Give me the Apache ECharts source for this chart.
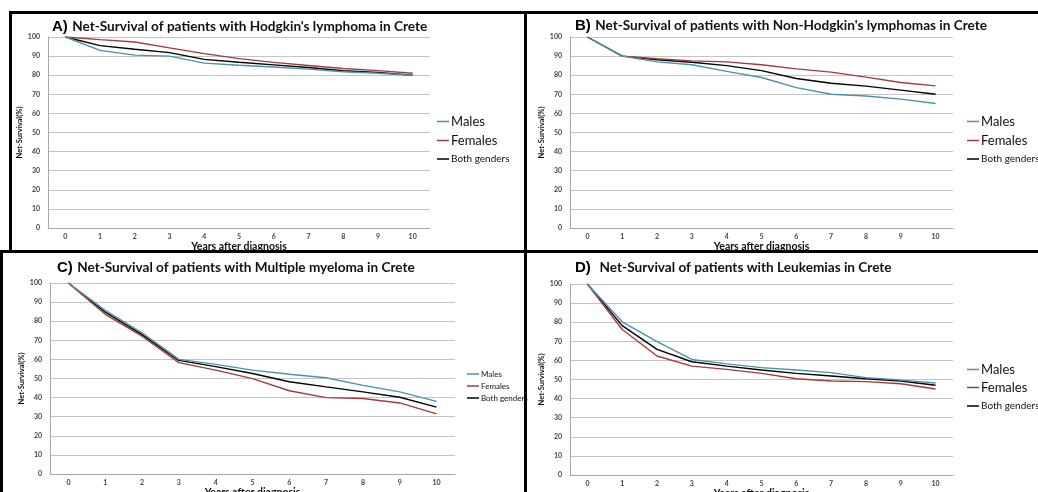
<!DOCTYPE html>
<html>
<head>
<meta charset="utf-8">
<script src="https://cdn.jsdelivr.net/npm/echarts@6/dist/echarts.min.js"></script>
<style>
  html, body { margin: 0; background: #fff; }
  #chart { width: 1038px; height: 492px; }
</style>
</head>
<body>
<div id="chart"></div>
<script>
  const years = ["0", "1", "2", "3", "4", "5", "6", "7", "8", "9", "10"];
  const groups = ["Males", "Females", "Both genders"];
  const yTicks = [0, 10, 20, 30, 40, 50, 60, 70, 80, 90, 100];

  // A) Hodgkin's lymphoma
  const hodgkinMales = [100, 93, 90.5, 90, 86.3, 85.2, 84.3, 83.2, 81.8, 81, 80];
  const hodgkinFemales = [100, 98.6, 97.4, 94.3, 91.3, 88.7, 86.7, 85.1, 83.5, 82.4, 81];
  const hodgkinBoth = [100, 95.5, 93.6, 91.8, 88.3, 86.8, 85.4, 84, 82.3, 81.5, 80];

  // B) Non-Hodgkin's lymphomas
  const nhlMales = [100, 90, 87, 85.5, 82, 78.8, 73.5, 70, 69.1, 67.5, 65.2];
  const nhlFemales = [100, 90, 88.6, 87.5, 87, 85.5, 83.3, 81.6, 79, 76.2, 74.4];
  const nhlBoth = [100, 90, 88.1, 86.8, 85, 82.4, 78.3, 75.8, 74.3, 72.2, 70];

  // C) Multiple myeloma
  const myelomaMales = [100, 85.7, 73.9, 60, 57.4, 54.4, 52.2, 50.4, 46.4, 43, 38];
  const myelomaFemales = [100, 83.6, 72.2, 58.3, 54.4, 49.9, 43.6, 40, 39.5, 37.2, 31.5];
  const myelomaBoth = [100, 84.7, 73, 59.5, 56.2, 52.6, 48.3, 45.6, 43, 40.2, 35];

  // D) Leukemias
  const leukMales = [100, 80.2, 69.8, 60.5, 58.2, 56.2, 55, 53.6, 51, 49.7, 48.2];
  const leukFemales = [100, 76.2, 62.3, 57, 55.3, 53.2, 50.4, 49.2, 48.9, 47.8, 45];
  const leukBoth = [100, 78.2, 65.8, 59.3, 57, 55, 53.2, 51.8, 50.4, 49.2, 47];

  const colors = ["#4a92ad", "#a23b3b", "#000000"];

  const panels = [
    { tag: "A)", title: "Net-Survival of patients with Hodgkin's lymphoma in Crete", data: [hodgkinMales, hodgkinFemales, hodgkinBoth],
      grid: { left: 48, top: 37, width: 382, height: 191 }, titlePos: { left: 47, top: 13 }, tagGap: " ",
      legend: { left: 432, tops: [110, 129, 149], sizes: [13, 13, 10] } },
    { tag: "B)", title: "Net-Survival of patients with Non-Hodgkin's lymphomas in Crete", data: [nhlMales, nhlFemales, nhlBoth],
      grid: { left: 570, top: 37, width: 383, height: 191 }, titlePos: { left: 570, top: 12 }, tagGap: " ",
      legend: { left: 962, tops: [110, 129, 149], sizes: [13, 13, 10] } },
    { tag: "C)", title: "Net-Survival of patients with Multiple myeloma in Crete", data: [myelomaMales, myelomaFemales, myelomaBoth],
      grid: { left: 50, top: 283, width: 405, height: 191 }, titlePos: { left: 52, top: 254 }, tagGap: " ",
      legend: { left: 462, tops: [365, 377, 389], sizes: [8, 8, 8] } },
    { tag: "D)", title: "Net-Survival of patients with Leukemias in Crete", data: [leukMales, leukFemales, leukBoth],
      grid: { left: 570, top: 284, width: 383, height: 191 }, titlePos: { left: 570, top: 254 }, tagGap: "  ",
      legend: { left: 962, tops: [358, 376, 396], sizes: [13, 13, 10] } },
  ];

  const font = "Lato, 'Open Sans', sans-serif";
  const option = {
    backgroundColor: "#fff",
    animation: false,
    textStyle: { fontFamily: font },
    title: [],
    legend: [],
    grid: [],
    xAxis: [],
    yAxis: [],
    series: [],
    graphic: [
      { type: "rect", shape: { x: 9, y: 11, width: 1029, height: 3 }, style: { fill: "#000" } },
      { type: "rect", shape: { x: 9, y: 11, width: 3, height: 241 }, style: { fill: "#000" } },
      { type: "rect", shape: { x: 0, y: 251, width: 3, height: 241 }, style: { fill: "#000" } },
      { type: "rect", shape: { x: 0, y: 250, width: 1038, height: 3 }, style: { fill: "#000" } },
      { type: "rect", shape: { x: 524, y: 11, width: 3, height: 481 }, style: { fill: "#000" } },
    ],
  };

  panels.forEach((p, i) => {
    option.grid.push(Object.assign({ outerBoundsMode: "none", containLabel: false }, p.grid));
    option.title.push({
      left: p.titlePos.left,
      top: p.titlePos.top,
      text: "{tag|" + p.tag + "}" + p.tagGap + "{t|" + p.title + "}",
      textStyle: {
        rich: {
          tag: { fontFamily: "'Liberation Sans', Arial, sans-serif", fontWeight: "bold", fontSize: 15, color: "#000" },
          t: { fontFamily: font, fontWeight: "bold", fontSize: 13.6, color: "#111" },
        },
      },
    });
    option.xAxis.push({
      type: "category",
      gridIndex: i,
      data: years,
      boundaryGap: true,
      name: "Years after diagnosis",
      nameLocation: "middle",
      nameGap: 12,
      nameTextStyle: { fontFamily: font, fontWeight: "bold", fontSize: 10.5, color: "#111" },
      axisLine: { lineStyle: { color: "#a8a8a8" } },
      axisTick: { show: false },
      axisLabel: { fontSize: 7, fontWeight: "bold", color: "#444", margin: 5 },
    });
    option.yAxis.push({
      type: "value",
      gridIndex: i,
      min: yTicks[0],
      max: yTicks[yTicks.length - 1],
      interval: yTicks[1] - yTicks[0],
      name: "Net-Survival(%)",
      nameLocation: "middle",
      nameRotate: 90,
      nameGap: 21,
      nameTextStyle: { fontFamily: font, fontWeight: "bold", fontSize: 7.5, color: "#111" },
      axisLine: { show: true, lineStyle: { color: "#a8a8a8" } },
      axisTick: { show: false },
      axisLabel: { fontSize: 7, fontWeight: "bold", color: "#444", margin: 8 },
      splitLine: { lineStyle: { color: "#c4c4c4" } },
    });
    groups.forEach((g, k) => {
      option.series.push({
        name: g,
        type: "line",
        xAxisIndex: i,
        yAxisIndex: i,
        data: p.data[k],
        showSymbol: false,
        color: colors[k],
        lineStyle: { width: 1.4, color: colors[k] },
        z: 3 - k,
      });
      option.legend.push({
        left: p.legend.left,
        top: p.legend.tops[k],
        orient: "vertical",
        icon: "rect",
        itemWidth: 12,
        itemHeight: 1.5,
        itemGap: 0,
        selectedMode: false,
        data: [{ name: g, textStyle: { fontSize: p.legend.sizes[k], color: "#111", fontFamily: font } }],
        textStyle: { padding: [0, 0, 0, -3] },
      });
    });
  });

  const chart = echarts.init(document.getElementById("chart"));
  chart.setOption(option);
</script>
</body>
</html>
